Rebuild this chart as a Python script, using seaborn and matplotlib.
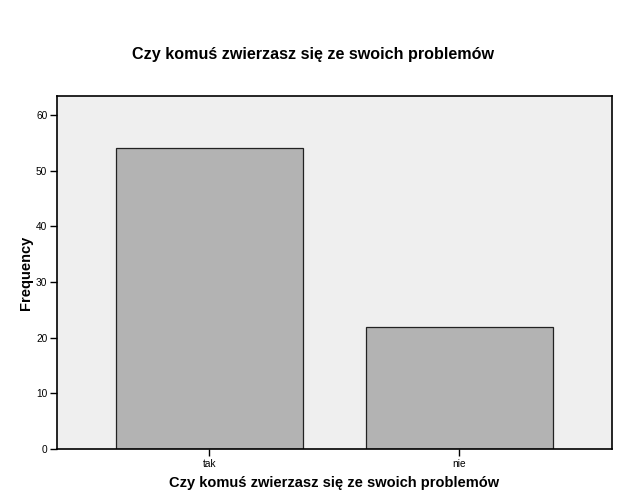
import pandas as pd
import seaborn as sns
import matplotlib.pyplot as plt

categories = ['tak', 'nie']
counts = [54, 22]
title = 'Czy komuś zwierzasz się ze swoich problemów'

df = pd.DataFrame({'answer': categories, 'Frequency': counts})

sns.set_style('white')
plt.rcParams['font.family'] = ['Liberation Sans', 'DejaVu Sans']
plt.rcParams['text.color'] = 'black'
plt.rcParams['axes.labelcolor'] = 'black'
plt.rcParams['xtick.color'] = 'black'
plt.rcParams['ytick.color'] = 'black'

fig = plt.figure(figsize=(6.24, 5.0), dpi=100)
ax = fig.add_axes([57/624, 1 - 449/500, (612 - 57)/624, (449 - 96)/500])
ax.set_facecolor('#efefef')

sns.barplot(data=df, x='answer', y='Frequency', color='#b3b3b3', width=0.748,
            edgecolor='#222222', linewidth=0.9, saturation=1, ax=ax)

ax.set_xlim(-0.61, 1.61)
ax.set_ylim(0, 63.4)
ax.set_yticks(range(0, 61, 10))
for s in ax.spines.values():
    s.set_color('black')
    s.set_linewidth(1.2)
ax.tick_params(axis='both', direction='out', length=5, width=1, color='black',
               labelsize=7.3, pad=2, left=True, bottom=True)

ax.set_xlabel(title, fontsize=10.5, fontweight='bold', labelpad=5)
ax.set_ylabel('Frequency', fontsize=10.5, fontweight='bold', labelpad=2)
fig.text(313/624, 1 - 55/500, title, ha='center', va='center', fontsize=11.6, fontweight='bold')

fig.savefig('out.png', dpi=100)
